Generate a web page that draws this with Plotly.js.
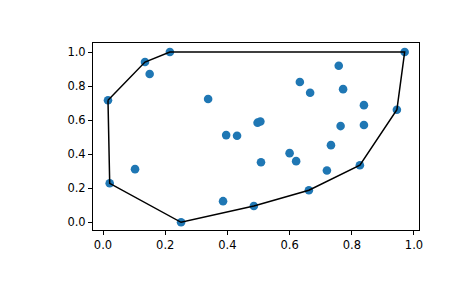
<!DOCTYPE html>
<html>
<head>
<meta charset="utf-8">
<script src="https://cdn.plot.ly/plotly-3.0.1.min.js"></script>
<style>html,body{margin:0;padding:0;background:#fff;}#chart{width:465px;height:288px;}</style>
</head>
<body>
<div id="chart"></div>
<script>
// All 30 points
const pointsX = [0.016, 0.135, 0.215, 0.970, 0.945, 0.826, 0.662, 0.485, 0.251, 0.0215,
                 0.150, 0.338, 0.396, 0.431, 0.497, 0.506, 0.758, 0.633, 0.666, 0.772,
                 0.839, 0.764, 0.839, 0.733, 0.600, 0.621, 0.508, 0.720, 0.103, 0.386];
const pointsY = [0.717, 0.941, 1.000, 1.000, 0.661, 0.335, 0.188, 0.096, 0.000, 0.229,
                 0.871, 0.724, 0.512, 0.508, 0.585, 0.592, 0.919, 0.824, 0.761, 0.782,
                 0.688, 0.565, 0.571, 0.453, 0.406, 0.359, 0.353, 0.304, 0.312, 0.124];
// Convex hull vertex indices (into the point arrays), closed
const hullIdx = [0, 1, 2, 3, 4, 5, 6, 7, 8, 9, 0];
const xTicks = [0.0, 0.2, 0.4, 0.6, 0.8, 1.0];
const yTicks = [0.0, 0.2, 0.4, 0.6, 0.8, 1.0];

const hullX = hullIdx.map(i => pointsX[i]);
const hullY = hullIdx.map(i => pointsY[i]);

const traces = [
  {x: pointsX, y: pointsY, mode: 'markers', type: 'scatter',
   marker: {color: '#1f77b4', size: 8.6, line: {width: 0}}, hoverinfo: 'none'},
  {x: hullX, y: hullY, mode: 'lines', type: 'scatter',
   line: {color: '#000000', width: 1.5}, hoverinfo: 'none'}
];

const axisCommon = {
  showgrid: false, zeroline: false, showline: true, mirror: true,
  linecolor: '#000', linewidth: 1, ticks: 'outside', ticklen: 4, tickwidth: 1,
  tickcolor: '#000', tickformat: '.1f',
  tickfont: {family: 'DejaVu Sans', size: 11.5, color: '#000'}
};

const layout = {
  width: 465, height: 288,
  margin: {l: 93.3, r: 45.7, t: 43.3, b: 58, pad: 0},
  paper_bgcolor: '#fff', plot_bgcolor: '#fff',
  showlegend: false,
  xaxis: Object.assign({}, axisCommon, {range: [-0.0322, 1.0161], tickvals: xTicks}),
  yaxis: Object.assign({}, axisCommon, {range: [-0.0453, 1.0529], tickvals: yTicks})
};

Plotly.newPlot('chart', traces, layout, {displayModeBar: false, staticPlot: true});
</script>
</body>
</html>
